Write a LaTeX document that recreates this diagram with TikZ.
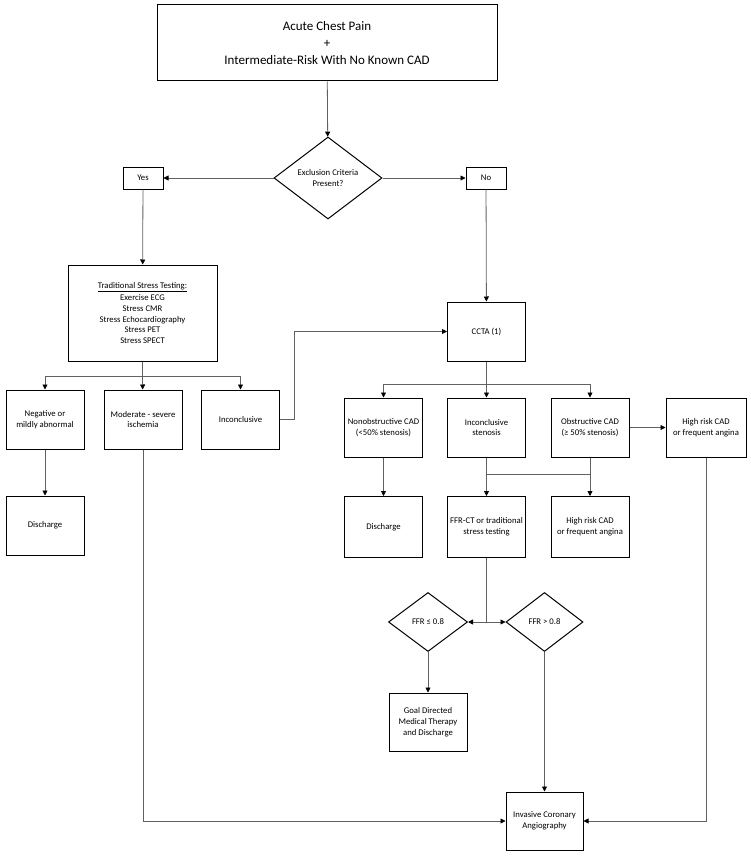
\documentclass[tikz,border=0pt]{standalone}
\usepackage{fontspec}
\setmainfont{Carlito}
\usetikzlibrary{arrows.meta,shapes.geometric}

\begin{document}
\begin{tikzpicture}[
      x=1pt, y=-1pt,
      >={Triangle[length=5pt,width=5pt,color=black]},
      box/.style={draw=black,line width=1pt,inner sep=2pt,align=center,font=\fontsize{8.7}{10.8}\selectfont,minimum width=78pt,minimum height=59pt},
      dec/.style={draw=black,line width=1pt,diamond,inner sep=0pt,align=center,font=\fontsize{8.7}{10.8}\selectfont,minimum width=78pt,minimum height=59pt},
      flow/.style={->,black!62,line width=0.8pt},
      link/.style={black!62,line width=0.8pt}
    ]
      \useasboundingbox (0,0) rectangle (750,856);

      \node[box,minimum width=340pt,minimum height=76pt,font=\fontsize{13}{17}\selectfont] (start) at (327,43) {Acute Chest Pain\\+\\Intermediate-Risk With No Known CAD};
      \node[dec,minimum width=108pt,minimum height=82pt] (excl) at (328,178) {Exclusion Criteria\\Present?};
      \node[box,minimum width=40pt,minimum height=22pt] (yes) at (143,178) {Yes};
      \node[box,minimum width=40pt,minimum height=22pt] (no) at (486,178) {No};

      \node[box,minimum width=149pt,minimum height=96pt] (trad) at (142.5,313) {\underline{Traditional Stress Testing:}\\[1.5pt]Exercise ECG\\Stress CMR\\Stress Echocardiography\\Stress PET\\Stress SPECT};
      \node[box] (neg) at (45,419.5) {Negative or\\mildly abnormal};
      \node[box] (mod) at (143,419.5) {Moderate - severe\\ischemia};
      \node[box] (inc) at (240.5,419.5) {Inconclusive};
      \node[box] (dis1) at (45,525.5) {Discharge};

      \node[box] (ccta) at (486.5,331.5) {CCTA (1)};
      \node[box] (nonob) at (383.5,427.5) {Nonobstructive CAD\\(<50\% stenosis)};
      \node[box] (incst) at (486.5,427.5) {Inconclusive\\stenosis};
      \node[box] (obst) at (590,427.5) {Obstructive CAD\\(≥ 50\% stenosis)};
      \node[box,minimum width=80pt] (hr1) at (706,427.5) {High risk CAD\\or frequent angina};

      \node[box,minimum height=61pt] (dis2) at (383.5,527) {Discharge};
      \node[box,minimum height=61pt] (ffrct) at (486.5,527) {FFR-CT or traditional\\stress testing};
      \node[box,minimum height=61pt] (hr2) at (590,527) {High risk CAD\\or frequent angina};

      \node[dec,minimum width=79pt] (ffrlo) at (428,622) {FFR ≤ 0.8};
      \node[dec,minimum width=77pt] (ffrhi) at (544.5,622) {FFR > 0.8};
      \node[box,minimum height=58pt] (gdmt) at (428,722) {Goal Directed\\Medical Therapy\\and Discharge};
      \node[box,minimum width=77pt,minimum height=58pt] (ica) at (544.5,821) {Invasive Coronary\\Angiography};

      \coordinate (tsplit) at (142.5,376);
      \coordinate (ibend) at (294,419.5);
      \coordinate (csplit) at (486.5,384);
      \coordinate (ssplit) at (486.5,474);
      \coordinate (osplit) at (590,474);
      \coordinate (fsplit) at (486.5,622);

      \draw[flow] (start) -- (excl);
      \draw[flow] (excl) -- (yes);
      \draw[flow] (excl) -- (no);
      \draw[flow] (yes) -- (trad);
      \draw[flow] (no) -- (ccta);

      \draw[link] (trad) -- (tsplit);
      \draw[flow] (tsplit) -| (neg);
      \draw[flow] (tsplit) -- (mod);
      \draw[flow] (tsplit) -| (inc);
      \draw[flow] (neg) -- (dis1);
      \draw[flow] (inc) -- (ibend) |- (ccta);

      \draw[link] (ccta) -- (csplit);
      \draw[flow] (csplit) -| (nonob);
      \draw[flow] (csplit) -- (incst);
      \draw[flow] (csplit) -| (obst);
      \draw[flow] (obst) -- (hr1);

      \draw[flow] (nonob) -- (dis2);
      \draw[flow] (incst) -- (ffrct);
      \draw[flow] (obst) -- (hr2);
      \draw[link] (ssplit) -- (osplit);

      \draw[link] (ffrct) -- (fsplit);
      \draw[flow] (fsplit) -- (ffrlo);
      \draw[flow] (fsplit) -- (ffrhi);
      \draw[flow] (ffrlo) -- (gdmt);
      \draw[flow] (ffrhi) -- (ica);

      \draw[flow] (mod) |- (ica);
      \draw[flow] (hr1) |- (ica);
    \end{tikzpicture}
\end{document}
